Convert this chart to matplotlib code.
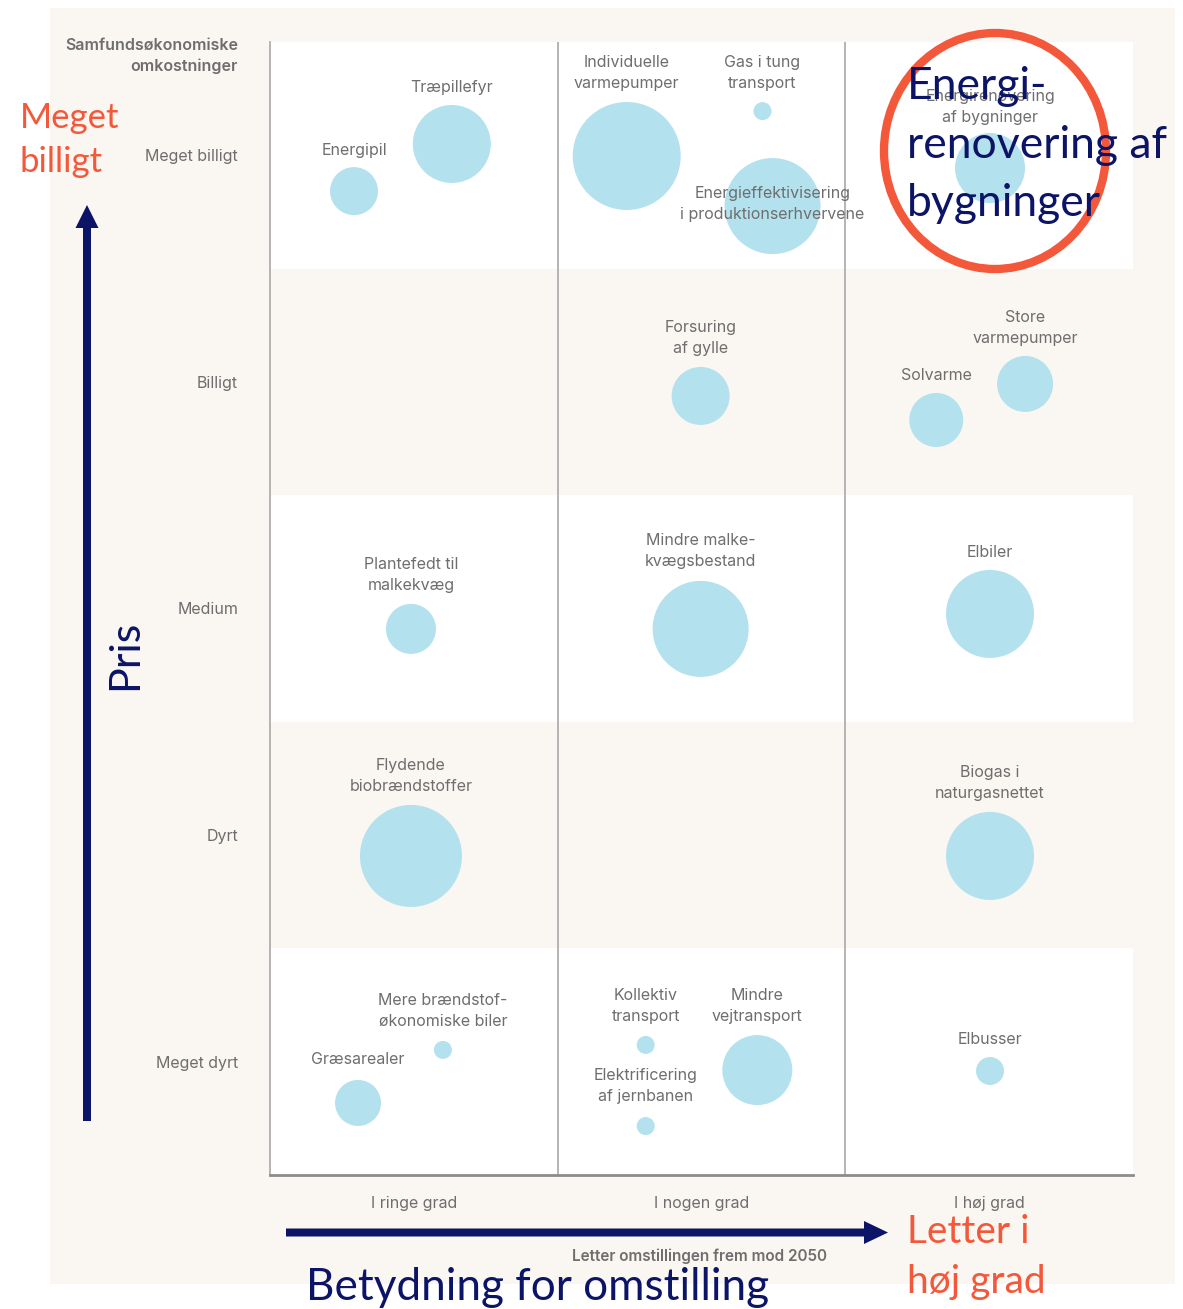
import matplotlib
matplotlib.use("Agg")
import matplotlib.pyplot as plt
from matplotlib.patches import Rectangle, Ellipse, FancyArrow

W, H = 1183, 1309
BEIGE = "#faf6f2"
BUBBLE = "#b3e1ee"
GRAY_TXT = "#6e6e6e"
NAVY = "#0b1466"
RED = "#f4583a"

# categories
ROWS = ["Meget billigt", "Billigt", "Medium", "Dyrt", "Meget dyrt"]
COLS = ["I ringe grad", "I nogen grad", "I høj grad"]

# bubbles: x in column units (0-3), y in row units from top (0-5), diameter in px
names = ["Træpillefyr", "Energipil", "Individuelle\nvarmepumper", "Gas i tung\ntransport",
         "Energieffektivisering\ni produktionserhvervene", "Energirenovering\naf bygninger",
         "Forsuring\naf gylle", "Store\nvarmepumper", "Solvarme",
         "Plantefedt til\nmalkekvæg", "Mindre malke-\nkvægsbestand", "Elbiler",
         "Flydende\nbiobrændstoffer", "Biogas i\nnaturgasnettet",
         "Mere brændstof-\nøkonomiske biler", "Græsarealer", "Kollektiv\ntransport",
         "Mindre\nvejtransport", "Elektrificering\naf jernbanen", "Elbusser"]
bx = [0.632, 0.292, 1.240, 1.712, 1.747, 2.503, 1.497, 2.625, 2.316,
      0.490, 1.497, 2.503, 0.490, 2.503, 0.601, 0.306, 1.306, 1.694, 1.306, 2.503]
by = [0.450, 0.658, 0.503, 0.305, 0.724, 0.556, 1.562, 1.509, 1.668,
      2.590, 2.590, 2.524, 3.592, 3.592, 4.448, 4.682, 4.426, 4.537, 4.784, 4.541]
diam = [78, 48, 108, 18, 96, 70, 58, 56, 54,
        50, 96, 88, 102, 88, 18, 46, 18, 70, 18, 28]
# label centres (same units)
lx = [0.632, 0.292, 1.240, 1.712, 1.747, 2.503, 1.497, 2.625, 2.316,
      0.490, 1.497, 2.503, 0.490, 2.503, 0.601, 0.306, 1.306, 1.694, 1.306, 2.503]
ly = [0.203, 0.477, 0.135, 0.135, 0.717, 0.285, 1.308, 1.260, 1.470,
      2.350, 2.248, 2.251, 3.241, 3.272, 4.276, 4.492, 4.252, 4.252, 4.609, 4.400]

fig = plt.figure(figsize=(W / 100, H / 100), dpi=100)

# background panel (pixel coords)
bg = fig.add_axes([0, 0, 1, 1], zorder=0)
bg.set_xlim(0, W); bg.set_ylim(H, 0); bg.axis("off")
bg.add_patch(Rectangle((50, 8), 1125, 1276, color=BEIGE, lw=0))

# main chart
L, R, T, B = 270, 1133, 42, 1175
ax = fig.add_axes([L / W, 1 - B / H, (R - L) / W, (B - T) / H], zorder=1)
ax.patch.set_alpha(0)
ax.set_xlim(0, 3); ax.set_ylim(5, 0)
for i in range(0, 5, 2):
    ax.axhspan(i, i + 1, color="white", lw=0, zorder=0)
for c in (1, 2):
    ax.axvline(c, color="#b4b4b4", lw=1.4, zorder=1)
for s in ("top", "right"):
    ax.spines[s].set_visible(False)
ax.spines["left"].set_color("#a8a8a8"); ax.spines["left"].set_linewidth(1.2)
ax.spines["bottom"].set_color("#8c8c8c"); ax.spines["bottom"].set_linewidth(2)

ax.scatter(bx, by, s=[(d * 0.72) ** 2 for d in diam], color=BUBBLE, lw=0, zorder=2)
for t, x, y in zip(names, lx, ly):
    ax.text(x, y, t, ha="center", va="center", fontsize=11.5, color=GRAY_TXT,
            family="Inter", linespacing=1.5, zorder=3)

ax.set_yticks([i + 0.5 for i in range(5)])
ax.set_yticklabels(ROWS, family="Inter", fontsize=11.5, color=GRAY_TXT)
ax.set_xticks([i + 0.5 for i in range(3)])
ax.set_xticklabels(COLS, family="Inter", fontsize=11.5, color=GRAY_TXT)
ax.tick_params(axis="y", length=0, pad=23)
ax.tick_params(axis="x", length=0, pad=15)

# overlay annotations (pixel coords)
top = fig.add_axes([0, 0, 1, 1], zorder=2)
top.set_xlim(0, W); top.set_ylim(H, 0); top.axis("off")

top.text(238, 56, "Samfundsøkonomiske\nomkostninger", ha="right", va="center",
         family="Inter", fontweight="semibold", fontsize=11.5, color=GRAY_TXT, linespacing=1.45)
top.text(700, 1256, "Letter omstillingen frem mod 2050", ha="center", va="center",
         family="Inter", fontweight="semibold", fontsize=11, color=GRAY_TXT)

# arrows
top.add_patch(FancyArrow(87, 1121, 0, 205 - 1121, width=8, head_width=23, head_length=23,
                         length_includes_head=True, color=NAVY, lw=0))
top.add_patch(FancyArrow(286, 1232.5, 888 - 286, 0, width=8, head_width=23, head_length=24,
                         length_includes_head=True, color=NAVY, lw=0))

top.text(20, 140, "Meget\nbilligt", ha="left", va="center", family="Lato",
         fontsize=25, color=RED, linespacing=1.46)
top.text(125, 655, "Pris", ha="center", va="center", rotation=90, family="Lato",
         fontsize=31, color=NAVY)
top.text(306, 1287, "Betydning for omstilling", ha="left", va="center", family="Lato",
         fontsize=31.8, color=NAVY)
top.text(907, 1257, "Letter i\nhøj grad", ha="left", va="center", family="Lato",
         fontsize=28, color=RED, linespacing=1.49)

top.add_patch(Ellipse((995, 151), 222, 236, fill=False, ec=RED, lw=6, zorder=4))
top.text(907, 145, "Energi-\nrenovering af\nbygninger", ha="left", va="center",
         family="Lato", fontsize=32, color=NAVY, linespacing=1.52, zorder=5)

fig.savefig("out.png", dpi=100)
